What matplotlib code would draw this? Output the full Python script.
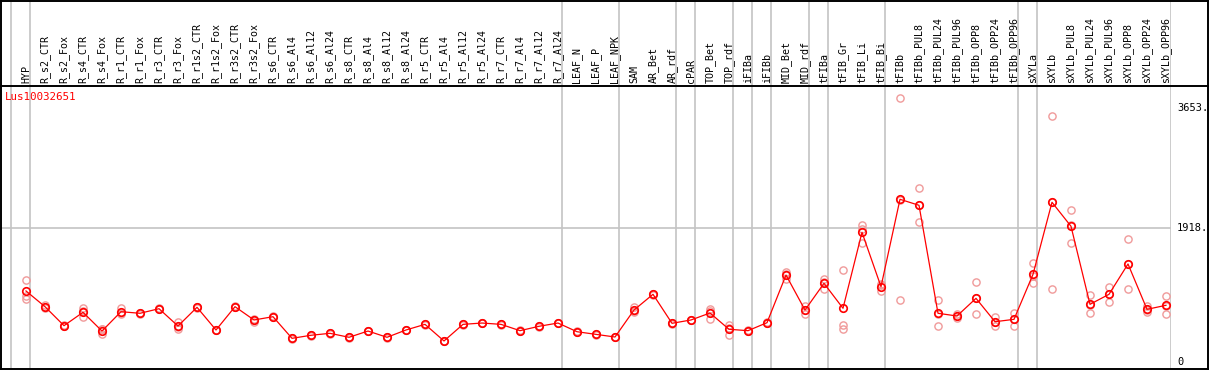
import matplotlib
matplotlib.use("Agg")
import matplotlib.pyplot as plt
from matplotlib.lines import Line2D
import matplotlib.transforms as mtransforms

categories = ["HYP", "R_s2_CTR", "R_s2_Fox", "R_s4_CTR", "R_s4_Fox", "R_r1_CTR", "R_r1_Fox",
              "R_r3_CTR", "R_r3_Fox", "R_r1s2_CTR", "R_r1s2_Fox", "R_r3s2_CTR", "R_r3s2_Fox",
              "R_s6_CTR", "R_s6_Al4", "R_s6_Al12", "R_s6_Al24", "R_s8_CTR", "R_s8_Al4",
              "R_s8_Al12", "R_s8_Al24", "R_r5_CTR", "R_r5_Al4", "R_r5_Al12", "R_r5_Al24",
              "R_r7_CTR", "R_r7_Al4", "R_r7_Al12", "R_r7_Al24", "LEAF_N", "LEAF_P", "LEAF_NPK",
              "SAM", "AR_Bet", "AR_rdf", "cPAR", "TOP_Bet", "TOP_rdf", "iFIBa", "iFIBb",
              "MID_Bet", "MID_rdf", "tFIBa", "tFIB_Gr", "tFIB_Li", "tFIB_Bi", "tFIBb",
              "tFIBb_PUL8", "tFIBb_PUL24", "tFIBb_PUL96", "tFIBb_OPP8", "tFIBb_OPP24",
              "tFIBb_OPP96", "sXYLa", "sXYLb", "sXYLb_PUL8", "sXYLb_PUL24", "sXYLb_PUL96",
              "sXYLb_OPP8", "sXYLb_OPP24", "sXYLb_OPP96"]

means = [1017, 791, 518, 710, 441, 719, 696, 762, 513, 782, 456, 791, 600, 647, 336, 380,
         408, 351, 441, 351, 456, 537, 298, 537, 556, 537, 446, 509, 556, 431, 393, 355,
         743, 969, 552, 600, 700, 466, 446, 561, 1246, 743, 1127, 768, 1860, 1079, 2335,
         2249, 696, 657, 911, 575, 609, 1256, 2292, 1947, 825, 969, 1405, 753, 811]

rep1 = [1170, 820, 518, 768, 466, 768, 696, 762, 575, 782, 456, 797, 620, 647, 336, 380,
        408, 351, 441, 351, 456, 537, 298, 537, 556, 537, 446, 509, 556, 431, 393, 355,
        782, 969, 552, 600, 758, 528, 446, 561, 1294, 801, 1189, 1314, 1961, 1117, 3787,
        2493, 887, 628, 1141, 647, 700, 1414, 3528, 2177, 959, 1069, 1764, 801, 945]
rep2 = [949, 770, 510, 638, 394, 686, 690, 755, 466, 775, 450, 785, 575, 640, 330, 374,
        402, 345, 435, 345, 450, 531, 292, 531, 550, 531, 440, 503, 550, 425, 387, 349,
        735, 962, 545, 594, 618, 384, 440, 555, 1189, 681, 1045, 528, 1711, 1021, 887,
        2004, 509, 657, 681, 513, 518, 1127, 1050, 1702, 696, 863, 1041, 710, 681]
rep3 = [901, 783, 526, 724, 463, 703, 702, 769, 498, 789, 462, 791, 605, 654, 342, 386,
        414, 357, 447, 357, 462, 543, 304, 543, 562, 543, 452, 515, 562, 437, 399, 361,
        712, 976, 559, 606, 724, 486, 452, 567, 1255, 747, 1147, 466, 1908, 1099, 2331,
        2250, 692, 686, 911, 565, 609, 1227, 2298, 1962, 820, 975, 1410, 748, 807]

group_bounds = [-0.8, 0.23, 28.23, 31.23, 34.23, 35.23, 37.23, 38.23, 39.23, 41.23,
                42.23, 45.23, 52.23, 53.23, 60.25]
tick_values = [0, 1918, 3653]
tick_labels = ["0", "1918.", "3653."]
gene = "Lus10032651"

W, H = 1209, 370
fig = plt.figure(figsize=(W / 100, H / 100), dpi=100)
fig.patch.set_facecolor("white")

mono = "DejaVu Sans Mono"
red = "#ff0000"
light = "#f09a9a"
gray = "#c4c4c4"

x0_pix, x1_pix = 2.0, 1170.7
xmin = (x0_pix - 26) / 19.0
xmax = (x1_pix - 26) / 19.0

# plot area
plot_top, plot_bot = 87.0, 367.5
ax = fig.add_axes([x0_pix / W, 1 - plot_bot / H, (x1_pix - x0_pix) / W, (plot_bot - plot_top) / H])
ax.set_facecolor("none")
ax.set_xlim(xmin, xmax)
scale = 0.06955
ax.set_ylim((361.7 - plot_bot) / scale, (361.7 - plot_top) / scale)
for s in ax.spines.values():
    s.set_visible(False)
ax.set_xticks([])
ax.set_yticks([])

xs = list(range(len(categories)))
for b in group_bounds:
    ax.axvline(b, color=gray, lw=1.2, zorder=1)
ax.axhline(tick_values[1], color=gray, lw=1.2, zorder=1)

for reps in (rep1, rep2, rep3):
    ax.plot(xs, reps, linestyle="none", marker="o", markersize=5.2, mfc="none",
            mec=light, mew=1.0, zorder=2, clip_on=False)
ax.plot(xs, means, color=red, lw=0.9, marker="o", markersize=5.4, mfc="none",
        mec=red, mew=1.2, zorder=3, clip_on=False)

trans = mtransforms.blended_transform_factory(ax.transAxes, ax.transData)
for v, lab in zip(tick_values, tick_labels):
    ax.text(1.0 + 6.5 / (x1_pix - x0_pix), v, lab, transform=trans, ha="left", va="center",
            fontsize=7.5, family=mono, color="black", clip_on=False)

# header
hdr_bot = 86.0
hax = fig.add_axes([x0_pix / W, 1 - hdr_bot / H, (x1_pix - x0_pix) / W, hdr_bot / H])
hax.set_facecolor("none")
hax.set_xlim(xmin, xmax)
hax.set_ylim(0, hdr_bot)
for s in hax.spines.values():
    s.set_visible(False)
hax.set_xticks([])
hax.set_yticks([])
for b in group_bounds:
    hax.axvline(b, color=gray, lw=1.2, zorder=1)
for i, lab in enumerate(categories):
    hax.text(i, 3.0, lab, rotation=90, ha="center", va="bottom", fontsize=7.2,
             family=mono, color="black")

fig.text(5 / W, 1 - 97 / H, gene, ha="left", va="center", fontsize=7.8, family=mono, color=red)

# frame
def fline(x0, y0, x1, y1, **kw):
    fig.add_artist(Line2D([x0 / W, x1 / W], [1 - y0 / H, 1 - y1 / H], transform=fig.transFigure, **kw))

fline(1, 0.5, 1208, 0.5, color="black", lw=1.4)
fline(1, 0, 1, 369, color="black", lw=1.4)
fline(1208, 0, 1208, 369, color="black", lw=1.4)
fline(0, 368.5, 1209, 368.5, color="black", lw=1.4)
fline(0, 86, 1209, 86, color="black", lw=1.4)

fig.savefig("out.png", dpi=100, facecolor="white")
